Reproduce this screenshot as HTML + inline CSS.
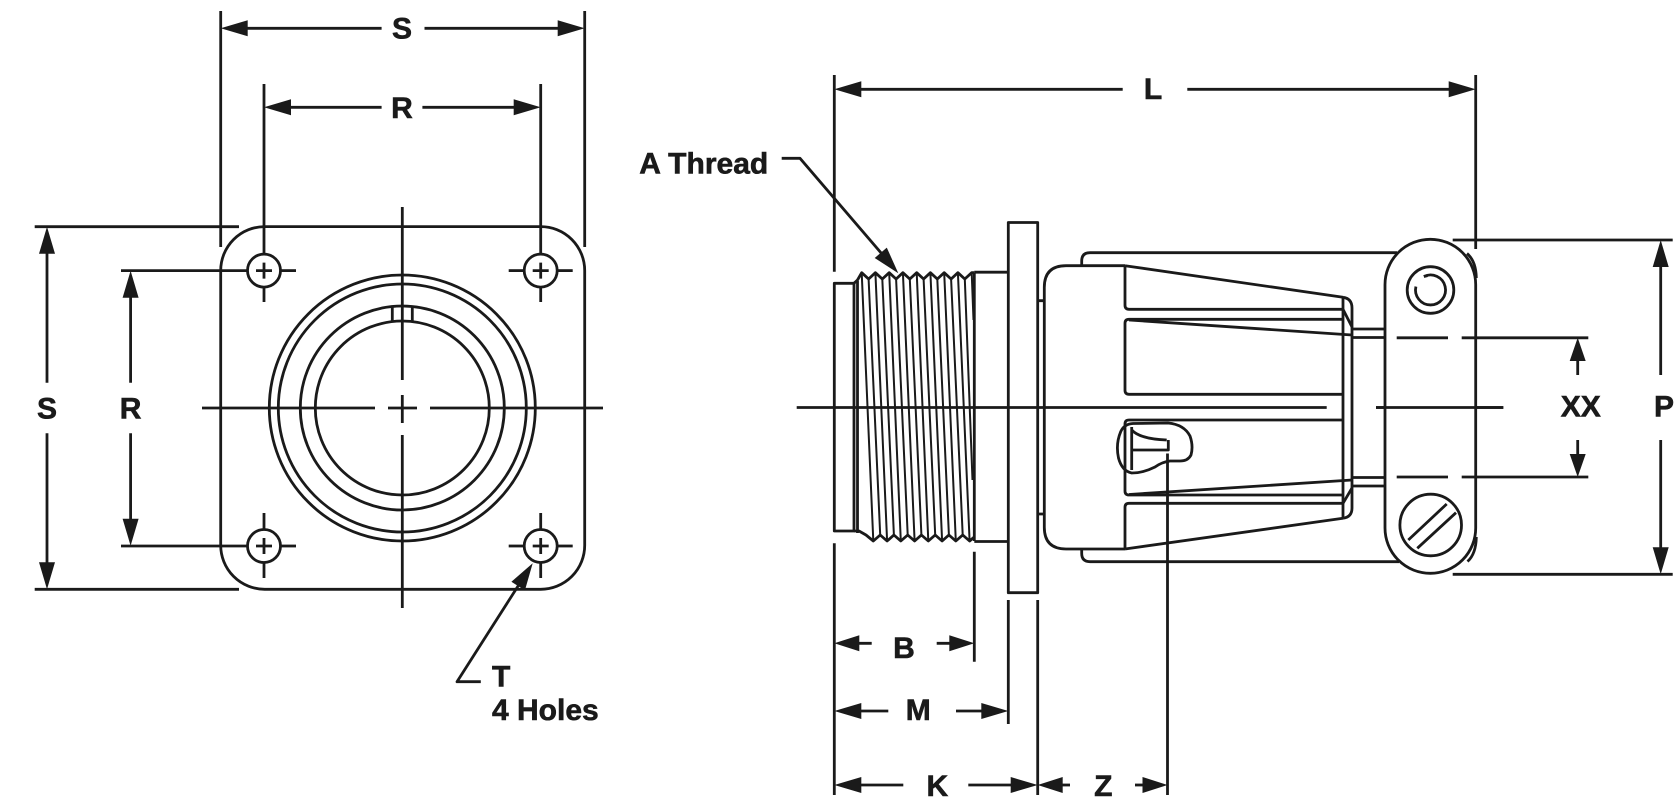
<!DOCTYPE html>
<html>
<head>
<meta charset="utf-8">
<style>
html,body{margin:0;padding:0;background:#fff;}
svg{display:block;}
text{font-family:"Liberation Sans",Arial,sans-serif;font-weight:bold;font-size:30px;fill:#1a1a1a;stroke:#1a1a1a;stroke-width:0.6;}
</style>
</head>
<body>
<svg width="1680" height="810" viewBox="0 0 1680 810" xmlns="http://www.w3.org/2000/svg">
<g fill="none" stroke="#1a1a1a" stroke-width="2.8" stroke-linecap="butt" stroke-linejoin="round">

<!-- ================= LEFT VIEW ================= -->
<rect x="220.7" y="226.6" width="364" height="362.7" rx="44" ry="44"/>
<circle cx="402.3" cy="408" r="133"/>
<circle cx="402.3" cy="408" r="124"/>
<circle cx="402.3" cy="408" r="102"/>
<circle cx="402.3" cy="408" r="87"/>
<line x1="392.3" y1="306" x2="392.3" y2="321"/>
<line x1="412.3" y1="306" x2="412.3" y2="321"/>
<line x1="202" y1="408" x2="375" y2="408"/>
<line x1="388" y1="408" x2="417" y2="408"/>
<line x1="430" y1="408" x2="603" y2="408"/>
<line x1="402.3" y1="207" x2="402.3" y2="380"/>
<line x1="402.3" y1="395" x2="402.3" y2="423"/>
<line x1="402.3" y1="435" x2="402.3" y2="608"/>

<circle cx="264" cy="270.6" r="16.5"/>
<circle cx="540.7" cy="270.6" r="16.5"/>
<circle cx="264" cy="546" r="16.5"/>
<circle cx="540.7" cy="546" r="16.5"/>
<path d="M256,270.6H272M264,262.6V278.6 M532.7,270.6H548.7M540.7,262.6V278.6 M256,546H272M264,538V554 M532.7,546H548.7M540.7,538V554"/>
<line x1="121" y1="270.6" x2="247.5" y2="270.6"/>
<line x1="280.5" y1="270.6" x2="296" y2="270.6"/>
<line x1="508.7" y1="270.6" x2="524.2" y2="270.6"/>
<line x1="557.2" y1="270.6" x2="572.7" y2="270.6"/>
<line x1="121" y1="546" x2="247.5" y2="546"/>
<line x1="280.5" y1="546" x2="296" y2="546"/>
<line x1="508.7" y1="546" x2="524.2" y2="546"/>
<line x1="557.2" y1="546" x2="572.7" y2="546"/>
<line x1="264" y1="84" x2="264" y2="254.1"/>
<line x1="264" y1="287.1" x2="264" y2="302"/>
<line x1="540.7" y1="84" x2="540.7" y2="254.1"/>
<line x1="540.7" y1="287.1" x2="540.7" y2="302"/>
<line x1="264" y1="513" x2="264" y2="529.5"/>
<line x1="264" y1="562.5" x2="264" y2="578"/>
<line x1="540.7" y1="513" x2="540.7" y2="529.5"/>
<line x1="540.7" y1="562.5" x2="540.7" y2="578"/>

<line x1="220.7" y1="11" x2="220.7" y2="247"/>
<line x1="584.7" y1="11" x2="584.7" y2="247"/>
<line x1="230" y1="28.3" x2="381.6" y2="28.3"/>
<line x1="424.5" y1="28.3" x2="575" y2="28.3"/>
<line x1="272" y1="107.3" x2="381.6" y2="107.3"/>
<line x1="422.4" y1="107.3" x2="532" y2="107.3"/>
<line x1="34.7" y1="226.7" x2="239" y2="226.7"/>
<line x1="34.7" y1="589.3" x2="239" y2="589.3"/>
<line x1="47" y1="236" x2="47" y2="382.7"/>
<line x1="47" y1="433.3" x2="47" y2="580"/>
<line x1="130.6" y1="280" x2="130.6" y2="382.7"/>
<line x1="130.6" y1="433.3" x2="130.6" y2="536"/>
<polyline points="480.8,681.7 457,681.7 520,583"/>

<!-- ================= RIGHT VIEW ================= -->
<line x1="834.3" y1="75" x2="834.3" y2="271.7"/>
<line x1="834.3" y1="543.3" x2="834.3" y2="795"/>
<line x1="1475.7" y1="75" x2="1475.7" y2="249"/>
<line x1="845" y1="89.3" x2="1122.7" y2="89.3"/>
<line x1="1187.3" y1="89.3" x2="1465" y2="89.3"/>
<polyline points="781.7,158.3 800,158.3 885,257.5"/>

<line x1="796.7" y1="407.5" x2="1326.7" y2="407.5"/>
<line x1="1376" y1="407.5" x2="1503.3" y2="407.5"/>

<rect x="834.3" y="283.3" width="19.7" height="247.7"/>
<line x1="857.5" y1="281" x2="857.5" y2="533"/>
<line x1="974.3" y1="272.7" x2="974.3" y2="541"/>
<polyline points="854,283.3 857.5,280 861.7,272.7 868.6,279 875.4,272.7 882.3,279 889.2,272.7 896.1,279 902.9,272.7 909.8,279 916.7,272.7 923.6,279 930.4,272.7 937.3,279 944.2,272.7 951.1,279 957.9,272.7 964.8,279 971.7,272.7 974.3,272.7"/>
<polyline points="854,531 859,531 866,535 873.3,541 880.2,535 887.1,541 893.9,535 900.8,541 907.7,535 914.6,541 921.4,535 928.3,541 935.2,535 942.1,541 948.9,535 955.8,541 962.7,535 969.6,541 974.3,537"/>
<g stroke-width="2">
<path d="M861.7,272.7L873.3,541 M868.6,279L880.2,535 M875.4,272.7L887.1,541 M882.3,279L893.9,535 M889.2,272.7L900.8,541 M896.1,279L907.7,535 M902.9,272.7L914.6,541 M909.8,279L921.4,535 M916.7,272.7L928.3,541 M923.6,279L935.2,535 M930.4,272.7L942.1,541 M937.3,279L948.9,535 M944.2,272.7L955.8,541 M951.1,279L962.7,535 M957.9,272.7L969.6,541 M964.8,279L972.5,480 M971.7,272.7L973.5,320"/>
</g>
<path d="M974.3,272.2H1008.3 M974.3,541.5H1008.3"/>
<rect x="1008.3" y="222.5" width="29.4" height="370.2"/>
<path d="M1037.7,300.7H1044.3 M1037.7,514H1044.3"/>

<path d="M1081.7,265.7V261Q1081.7,252.7 1090,252.7H1397"/>
<path d="M1081.7,549V553.4Q1081.7,561.7 1090,561.7H1399"/>
<path d="M1125,265.7H1066Q1044.3,265.7 1044.3,287.4V527.3Q1044.3,549 1066,549H1125"/>
<path d="M1125,265.7L1343,297.3"/>
<path d="M1125,266V305.3Q1125,309.3 1129,309.3H1343"/>
<path d="M1343,319.3H1129Q1125,319.3 1125,323.3V390.3Q1125,394.3 1129,394.3H1343"/>
<path d="M1129,320L1352,335"/>
<path d="M1343,420H1129Q1125,420 1125,424V491Q1125,495 1129,495H1343"/>
<path d="M1129,494.5L1352,480"/>
<path d="M1343,503.3H1129Q1125,503.3 1125,507.3V549"/>
<path d="M1125,549L1343,518.3"/>
<line x1="1343" y1="297.3" x2="1343" y2="518.3"/>
<path d="M1343,297.3Q1352,298.5 1352,308V508Q1352,517 1343,518.3"/>
<path d="M1343,309.3L1352,327 M1343,503.3L1352,488"/>
<path d="M1352,329H1385 M1352,337.5H1385 M1352,477.5H1385 M1352,486H1385"/>

<path d="M1120.7,431.7Q1124,424 1133,423.5L1168,423Q1184,424.5 1190,436Q1193.5,446 1191,455Q1188,461 1180,461H1170Q1162,462 1155,467Q1143,473 1131.7,473Q1122,471 1118.5,458Q1115.5,444 1120.7,431.7Z"/>
<line x1="1131.7" y1="427" x2="1131.7" y2="470"/>
<path d="M1131.7,450H1168.3V440"/>
<path d="M1131.7,430Q1140,439 1166.7,440"/>
<line x1="1167.5" y1="453.5" x2="1167.5" y2="795"/>

<rect x="1385" y="239.3" width="90.7" height="334" rx="45.3" ry="45.3" fill="#fff"/>
<path d="M1467,253.5Q1476,261 1476.3,278 M1476.3,537Q1476,554 1467.5,561.5"/>
<line x1="1376" y1="407.5" x2="1503.3" y2="407.5"/>
<circle cx="1430.5" cy="290" r="23.3"/>
<path d="M1423.9,276.5A15,15 0 1 1 1415.9,286.6"/>
<path d="M1423.9,276.5L1427.5,275.6"/>
<circle cx="1430.7" cy="525" r="30.8"/>
<path d="M1408.3,540L1446.7,504 M1417.3,548.3L1456,512.7"/>

<path d="M1396.7,337.8H1448 M1461.7,337.8H1588.3 M1396.7,477H1448 M1461.7,477H1588.3"/>
<line x1="1577.7" y1="358" x2="1577.7" y2="375"/>
<line x1="1577.7" y1="440" x2="1577.7" y2="457"/>
<path d="M1452.7,240H1672.7 M1452.7,574.3H1672.7"/>
<line x1="1660.7" y1="262" x2="1660.7" y2="375"/>
<line x1="1660.7" y1="440" x2="1660.7" y2="552"/>

<line x1="974.3" y1="551.7" x2="974.3" y2="661.7"/>
<line x1="1008.3" y1="600" x2="1008.3" y2="724"/>
<line x1="1037.7" y1="600" x2="1037.7" y2="795"/>
<line x1="850" y1="643.3" x2="871.7" y2="643.3"/>
<line x1="936.7" y1="643.3" x2="958" y2="643.3"/>
<line x1="850" y1="711" x2="888.3" y2="711"/>
<line x1="956" y1="711" x2="992" y2="711"/>
<line x1="850" y1="785" x2="903.3" y2="785"/>
<line x1="968.3" y1="785" x2="1020" y2="785"/>
<line x1="1055" y1="785" x2="1070" y2="785"/>
<line x1="1135" y1="785" x2="1150" y2="785"/>
</g>

<g fill="#1a1a1a" stroke="none">
<polygon points="220.7,28.3 247.7,20.3 247.7,36.3"/>
<polygon points="584.7,28.3 557.7,20.3 557.7,36.3"/>
<polygon points="264,107.3 291,99.3 291,115.3"/>
<polygon points="540.7,107.3 513.7,99.3 513.7,115.3"/>
<polygon points="47,226.7 39,253.7 55,253.7"/>
<polygon points="47,589.3 39,562.3 55,562.3"/>
<polygon points="130.6,270.7 122.6,297.7 138.6,297.7"/>
<polygon points="130.6,545.7 122.6,518.7 138.6,518.7"/>
<polygon points="532.7,563.3 524.9,590.4 511.4,581.8"/>
<polygon points="834.3,89.3 861.3,81.3 861.3,97.3"/>
<polygon points="1475.7,89.3 1448.7,81.3 1448.7,97.3"/>
<polygon points="898.3,273.3 874.7,258 886.8,247.6"/>
<polygon points="1577.7,337.8 1569.7,361 1585.7,361"/>
<polygon points="1577.7,477 1569.7,454 1585.7,454"/>
<polygon points="1660.7,240 1652.7,267 1668.7,267"/>
<polygon points="1660.7,574.3 1652.7,547.3 1668.7,547.3"/>
<polygon points="834.3,643.3 859.3,635.3 859.3,651.3"/>
<polygon points="974.3,643.3 949.3,635.3 949.3,651.3"/>
<polygon points="834.3,711 861.3,703 861.3,719"/>
<polygon points="1008.3,711 981.3,703 981.3,719"/>
<polygon points="834.3,785 861.3,777 861.3,793"/>
<polygon points="1037.7,785 1010.7,777 1010.7,793"/>
<polygon points="1037.7,785 1062.7,777 1062.7,793"/>
<polygon points="1167.5,785 1142.5,777 1142.5,793"/>
</g>

<text x="402" y="38.5" text-anchor="middle">S</text>
<text x="402" y="118" text-anchor="middle">R</text>
<text x="47" y="418.5" text-anchor="middle">S</text>
<text x="130.6" y="418.5" text-anchor="middle">R</text>
<text x="492" y="686.5">T</text>
<text x="492" y="720">4 Holes</text>
<text x="639.3" y="173.3">A Thread</text>
<text x="1153" y="99" text-anchor="middle">L</text>
<text x="904" y="658" text-anchor="middle">B</text>
<text x="918.3" y="720" text-anchor="middle">M</text>
<text x="937.3" y="796" text-anchor="middle">K</text>
<text x="1103.3" y="796" text-anchor="middle">Z</text>
<text x="1580.8" y="416.7" text-anchor="middle">XX</text>
<text x="1664" y="416.7" text-anchor="middle">P</text>
</svg>
</body>
</html>
